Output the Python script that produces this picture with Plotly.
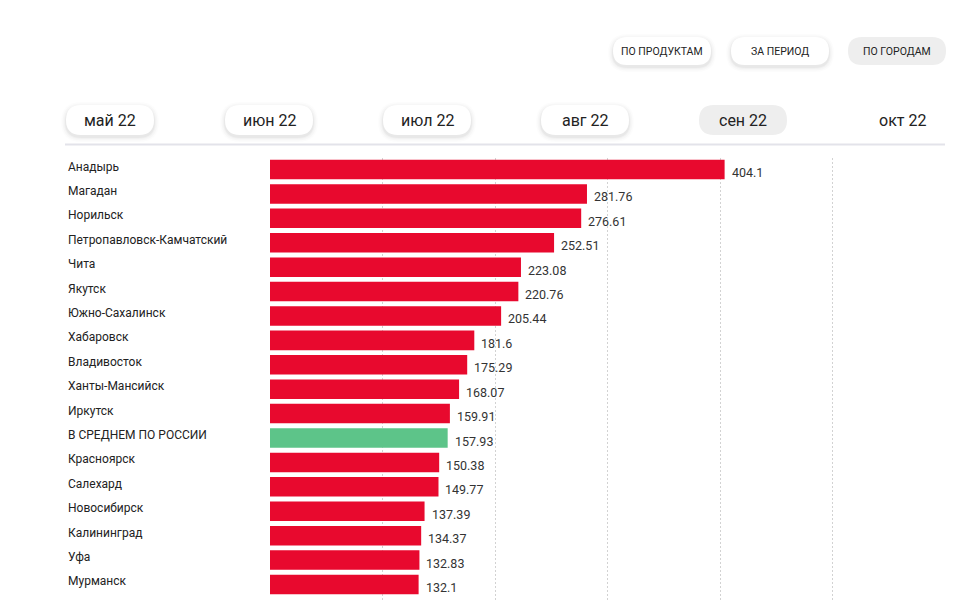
import plotly.graph_objects as go

# ---- data ----
cities = ["Анадырь", "Магадан", "Норильск", "Петропавловск-Камчатский", "Чита",
          "Якутск", "Южно-Сахалинск", "Хабаровск", "Владивосток", "Ханты-Мансийск",
          "Иркутск", "В СРЕДНЕМ ПО РОССИИ", "Красноярск", "Салехард", "Новосибирск",
          "Калининград", "Уфа", "Мурманск"]
values = [404.1, 281.76, 276.61, 252.51, 223.08, 220.76, 205.44, 181.6, 175.29, 168.07,
          159.91, 157.93, 150.38, 149.77, 137.39, 134.37, 132.83, 132.1]
average_label = "В СРЕДНЕМ ПО РОССИИ"
mode_buttons = ["ПО ПРОДУКТАМ", "ЗА ПЕРИОД", "ПО ГОРОДАМ"]
months = ["май 22", "июн 22", "июл 22", "авг 22", "сен 22", "окт 22"]
selected_month = "сен 22"
selected_mode = "ПО ГОРОДАМ"

W, H = 960, 600
OFF = 8  # page body margin
RED = "#E8092E"
GREEN = "#5DC489"
FONT = "Roboto, Noto Sans, sans-serif"

colors = [GREEN if c == average_label else RED for c in cities]

fig = go.Figure()
fig.add_trace(go.Bar(
    x=values, y=cities, orientation="h",
    marker=dict(color=colors, line=dict(width=0)),
    hoverinfo="x+y", showlegend=False,
))

def px(x):
    return (x - OFF) / W

def py(y):
    return 1 - (y - OFF) / H

def pill_path(x0, y0, x1, y1, r):
    pts = [
        ("M", [(x0 + r, y0)]), ("L", [(x1 - r, y0)]), ("Q", [(x1, y0), (x1, y0 + r)]),
        ("L", [(x1, y1 - r)]), ("Q", [(x1, y1), (x1 - r, y1)]),
        ("L", [(x0 + r, y1)]), ("Q", [(x0, y1), (x0, y1 - r)]),
        ("L", [(x0, y0 + r)]), ("Q", [(x0, y0), (x0 + r, y0)]),
    ]
    s = ""
    for cmd, ps in pts:
        s += cmd + " " + " ".join(f"{px(a):.5f},{py(b):.5f}" for a, b in ps) + " "
    return s + "Z"

shapes = []
annotations = []

def add_pill(x0, y0, x1, y1, selected):
    r = (y1 - y0) / 2
    if selected:
        shapes.append(dict(type="path", xref="paper", yref="paper",
                           path=pill_path(x0, y0, x1, y1, r),
                           fillcolor="#EEEEEE", line=dict(width=0), layer="below"))
    else:
        for g, a in [(5, 0.012), (3.5, 0.018), (2, 0.025), (1, 0.035)]:
            shapes.append(dict(type="path", xref="paper", yref="paper",
                               path=pill_path(x0 - g, y0 - g + 2, x1 + g, y1 + g + 2, r + g),
                               fillcolor=f"rgba(0,0,0,{a})", line=dict(width=0), layer="below"))
        shapes.append(dict(type="path", xref="paper", yref="paper",
                           path=pill_path(x0, y0, x1, y1, r),
                           fillcolor="#FFFFFF", line=dict(width=0), layer="below"))

# mode buttons
btn_x = [(613, 711), (731, 829), (848, 946)]
for name, (x0, x1) in zip(mode_buttons, btn_x):
    add_pill(x0, 37, x1, 65, name == selected_mode)
    annotations.append(dict(text=name, xref="paper", yref="paper",
                            x=px((x0 + x1) / 2), y=py(51.5), showarrow=False,
                            xanchor="center", yanchor="middle",
                            font=dict(family=FONT, size=10.5, color="#222222")))

# month tabs
month_cx = [110, 269, 427, 585, 743, 902]
for i, (m, cx) in enumerate(zip(months, month_cx)):
    if i < len(months) - 1:
        add_pill(cx - 44, 105, cx + 44, 135, m == selected_month)
    annotations.append(dict(text=m, xref="paper", yref="paper",
                            x=px(cx), y=py(120.5), showarrow=False,
                            xanchor="center", yanchor="middle",
                            font=dict(family=FONT, size=16, color="#222222")))

# separator line under the tabs
shapes.append(dict(type="line", xref="paper", yref="paper",
                   x0=px(65), x1=px(945), y0=py(144.5), y1=py(144.5),
                   line=dict(color="#E3E3EA", width=2)))

# city labels and value labels
for c, v in zip(cities, values):
    annotations.append(dict(text=c, xref="paper", yref="y", x=px(66), y=c,
                            xanchor="left", yanchor="middle", showarrow=False, yshift=3,
                            font=dict(family=FONT, size=12, color="#222222")))
    annotations.append(dict(text=f"{v:g}", xref="x", yref="y", x=v, y=c,
                            xanchor="left", yanchor="middle", showarrow=False,
                            xshift=5, yshift=-3,
                            font=dict(family=FONT, size=12.5, color="#333333")))

row0, pitch = 169.5, 24.41
top_px, bottom_px = 158, H + OFF
y_top = (top_px - row0) / pitch
y_bot = (bottom_px - row0) / pitch

fig.update_layout(
    width=W, height=H,
    margin=dict(l=0, r=0, t=0, b=0),
    paper_bgcolor="#FFFFFF", plot_bgcolor="#FFFFFF",
    bargap=0.2,
    shapes=shapes, annotations=annotations,
    font=dict(family=FONT),
    xaxis=dict(domain=[px(270), px(945)], range=[0, 600], dtick=100, tick0=0,
               showgrid=True, gridcolor="#D2D2D2", gridwidth=1, griddash="2px,2px",
               zeroline=False, showticklabels=False, showline=False, fixedrange=True),
    yaxis=dict(domain=[0, py(top_px)], type="category",
               categoryorder="array", categoryarray=cities,
               range=[y_bot, y_top], showgrid=False, zeroline=False,
               showticklabels=False, showline=False, fixedrange=True),
)

fig.write_html("out.html")
